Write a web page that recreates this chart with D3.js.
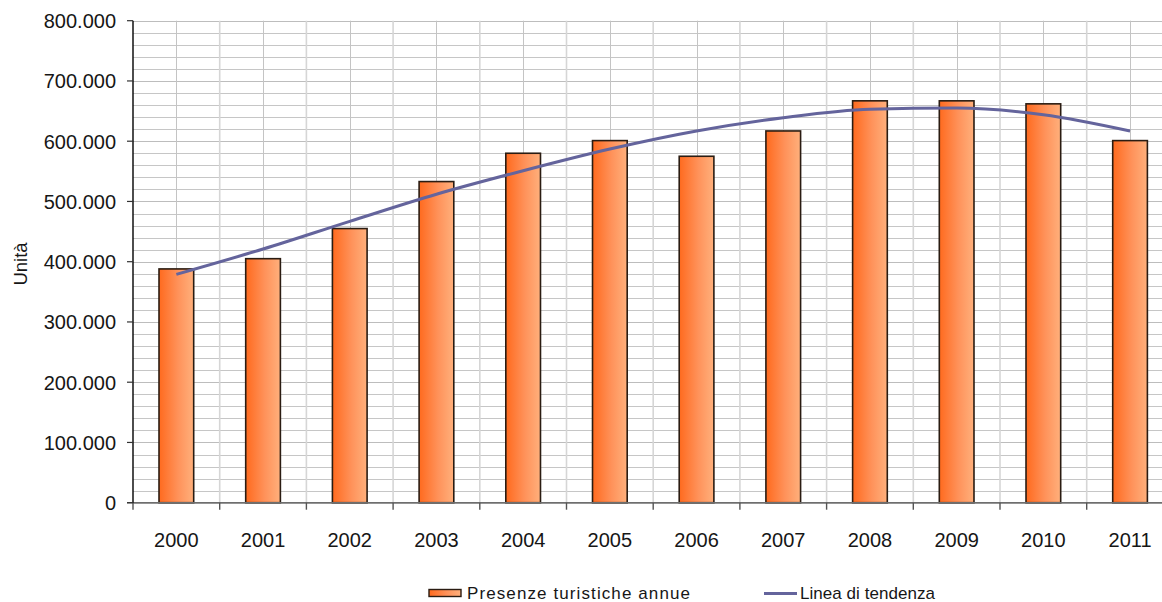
<!DOCTYPE html>
<html lang="it">
<head>
<meta charset="utf-8">
<title>Presenze turistiche annue</title>
<script src="https://cdn.jsdelivr.net/npm/d3@7"></script>
<style>
  html, body { margin: 0; padding: 0; background: #ffffff; }
  svg { display: block; }
  text { font-family: "Liberation Sans", Arial, sans-serif; fill: #161616; }
</style>
</head>
<body>
<svg id="chart" width="1162" height="602"></svg>
<script>
// Anni (categorie)
const years = ["2000","2001","2002","2003","2004","2005","2006","2007","2008","2009","2010","2011"];
// Presenze turistiche annue
const presenze = [388000, 405000, 455000, 533000, 580000, 601000, 575000, 617000, 667000, 667000, 662000, 601000];
// Linea di tendenza (valori per anno)
const tendenza = [379000, 421000, 467000, 512000, 551000, 587000, 617000, 639000, 653000, 655000, 644000, 617000];
// Etichette dell'asse verticale
const yTicks = [0, 100000, 200000, 300000, 400000, 500000, 600000, 700000, 800000];
const yMinor = d3.range(0, 800001, 20000);
const legendLabels = ["Presenze turistiche annue", "Linea di tendenza"];

const svg = d3.select("#chart");
const plotLeft = 133, plotRight = 1173.4, plotTop = 20.7, plotBottom = 502.7;

const x = d3.scaleBand().domain(years).range([plotLeft, plotRight]).paddingInner(0).paddingOuter(0);
const y = d3.scaleLinear().domain([0, 800000]).range([plotBottom, plotTop]);

const it = d3.formatLocale({decimal: ",", thousands: ".", grouping: [3], currency: ["€", ""]});
const fmt = it.format(",d");

const defs = svg.append("defs");
const grad = defs.append("linearGradient").attr("id", "barFill")
  .attr("x1", "0").attr("x2", "1").attr("y1", "0").attr("y2", "0");
grad.append("stop").attr("offset", "0%").attr("stop-color", "#ff6a1e");
grad.append("stop").attr("offset", "55%").attr("stop-color", "#ff925a");
grad.append("stop").attr("offset", "100%").attr("stop-color", "#ffb07c");

// Griglia orizzontale
const grid = svg.append("g");
grid.selectAll("line.h").data(yMinor).join("line")
  .attr("x1", plotLeft).attr("x2", plotRight)
  .attr("y1", d => Math.round(y(d)) + 0.5).attr("y2", d => Math.round(y(d)) + 0.5)
  .attr("stroke", d => d % 100000 === 0 ? "#bdbdbd" : "#c6c6c6").attr("stroke-width", 1);

// Griglia verticale: confini di categoria e centri
const bounds = years.map(d => x(d)).concat([plotRight]);
grid.selectAll("line.vb").data(bounds.slice(1)).join("line")
  .attr("x1", d => d).attr("x2", d => d).attr("y1", plotTop).attr("y2", plotBottom)
  .attr("stroke", "#d6d6d6").attr("stroke-width", 1.6);
grid.selectAll("line.vc").data(years).join("line")
  .attr("x1", d => Math.round(x(d) + x.bandwidth() / 2) + 0.5)
  .attr("x2", d => Math.round(x(d) + x.bandwidth() / 2) + 0.5)
  .attr("y1", plotTop).attr("y2", plotBottom)
  .attr("stroke", "#c4c4c4").attr("stroke-width", 1);

// Barre
const bw = x.bandwidth() * 0.4;
svg.append("g").selectAll("rect").data(years).join("rect")
  .attr("x", (d) => x(d) + (x.bandwidth() - bw) / 2)
  .attr("width", bw)
  .attr("y", (d, i) => y(presenze[i]))
  .attr("height", (d, i) => plotBottom - y(presenze[i]))
  .attr("fill", "url(#barFill)")
  .attr("stroke", "#2a1c12").attr("stroke-width", 1.6);

// Linea di tendenza
const line = d3.line()
  .x((d, i) => x(years[i]) + x.bandwidth() / 2)
  .y(d => y(d))
  .curve(d3.curveMonotoneX);
svg.append("path").datum(tendenza)
  .attr("d", line)
  .attr("fill", "none")
  .attr("stroke", "#64649c").attr("stroke-width", 3)
  .attr("stroke-linecap", "butt");

// Asse orizzontale
const xAxis = svg.append("g");
xAxis.append("line").attr("x1", plotLeft - 6).attr("x2", plotRight).attr("y1", plotBottom).attr("y2", plotBottom)
  .attr("stroke", "#6e6e6e").attr("stroke-width", 1.6);
xAxis.selectAll("line.t").data(bounds).join("line")
  .attr("x1", d => d).attr("x2", d => d).attr("y1", plotBottom).attr("y2", plotBottom + 7)
  .attr("stroke", "#555").attr("stroke-width", 1.4);
xAxis.selectAll("text").data(years).join("text")
  .attr("x", d => x(d) + x.bandwidth() / 2)
  .attr("y", 546.5)
  .attr("text-anchor", "middle")
  .attr("font-size", 20)
  .text(d => d);

// Asse verticale
const yAxis = svg.append("g");
yAxis.append("line").attr("x1", plotLeft).attr("x2", plotLeft).attr("y1", plotTop).attr("y2", plotBottom)
  .attr("stroke", "#000").attr("stroke-width", 1.4);
yAxis.selectAll("line.t").data(yTicks).join("line")
  .attr("x1", plotLeft - 6).attr("x2", plotLeft).attr("y1", d => y(d)).attr("y2", d => y(d))
  .attr("stroke", "#333").attr("stroke-width", 1.2);
yAxis.selectAll("text").data(yTicks).join("text")
  .attr("x", 116).attr("y", d => y(d) + 7.5)
  .attr("text-anchor", "end")
  .attr("font-size", 20)
  .text(d => fmt(d));

svg.append("text")
  .attr("transform", "translate(27,264) rotate(-90)")
  .attr("text-anchor", "middle")
  .attr("font-size", 18.5)
  .text("Unità");

// Legenda
const legend = svg.append("g");
legend.append("rect").attr("x", 429).attr("y", 589.5).attr("width", 32).attr("height", 7)
  .attr("fill", "url(#barFill)").attr("stroke", "#2a1c12").attr("stroke-width", 1.4);
legend.append("text").attr("x", 467).attr("y", 599).attr("font-size", 17)
  .attr("textLength", 223).attr("lengthAdjust", "spacing").text(legendLabels[0]);
legend.append("line").attr("x1", 764).attr("x2", 797).attr("y1", 593.5).attr("y2", 593.5)
  .attr("stroke", "#64649c").attr("stroke-width", 3);
legend.append("text").attr("x", 800).attr("y", 599).attr("font-size", 17)
  .attr("textLength", 135).attr("lengthAdjust", "spacing").text(legendLabels[1]);
</script>
</body>
</html>
